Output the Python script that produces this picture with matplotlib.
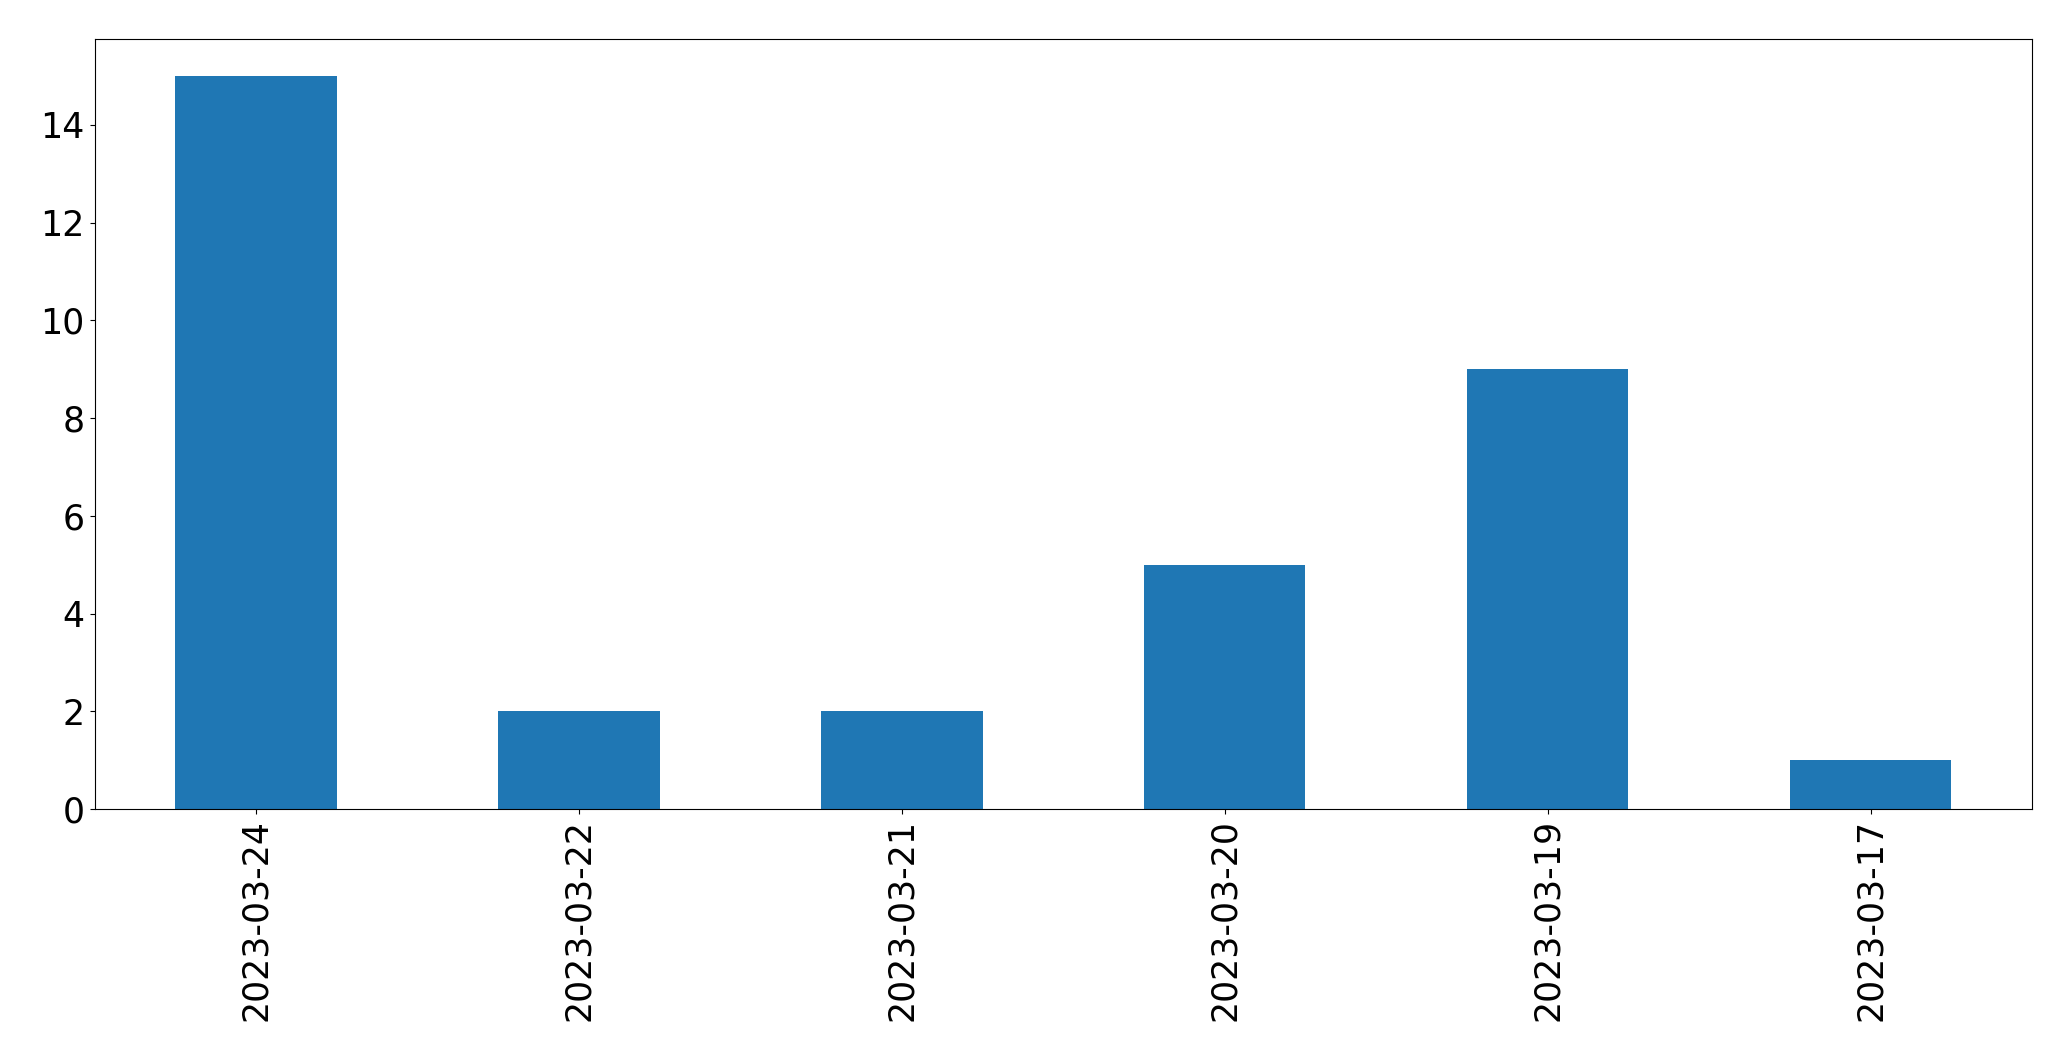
import matplotlib
matplotlib.use("Agg")
import matplotlib.pyplot as plt
import numpy as np

dates = ["2023-03-24", "2023-03-22", "2023-03-21", "2023-03-20", "2023-03-19", "2023-03-17"]
counts = [15, 2, 2, 5, 9, 1]

W, H = 2071, 1061
fig = plt.figure(figsize=(W / 100, H / 100), dpi=100)
left, right, top, bottom = 94.5, 2032, 39.3, 809
ax = fig.add_axes([left / W, (H - bottom) / H, (right - left) / W, (bottom - top) / H])

x = np.arange(len(dates))
ax.bar(x, counts, width=0.5, color="#1f77b4")
ax.set_xlim(-0.5, len(dates) - 0.5)
ax.set_ylim(0, max(counts) * 1.05)
ax.set_xticks(x)
ax.set_xticklabels(dates, rotation=90)
ax.set_yticks(np.arange(0, 15, 2))
ax.tick_params(labelsize=25, length=3.5, width=0.8)

fig.savefig("out.png", dpi=100)
